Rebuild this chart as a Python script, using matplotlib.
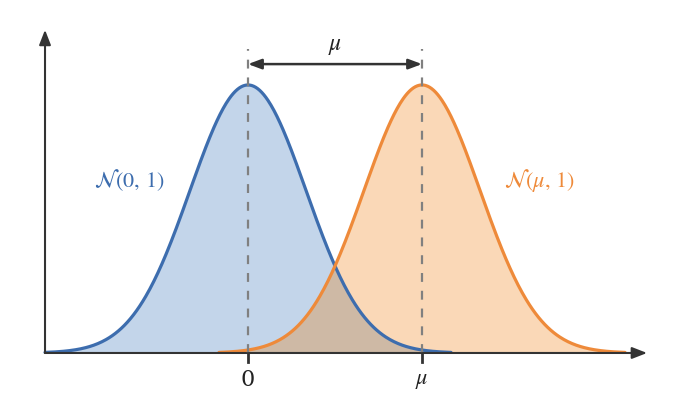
import numpy as np
import matplotlib
matplotlib.use("Agg")
import matplotlib.pyplot as plt

plt.rcParams['mathtext.fontset'] = 'stix'
plt.rcParams['font.family'] = ['DejaVu Serif']

# data
mu = 3.0
sigma = 1.0
span = 3.5
tick_positions = [0.0, mu]
tick_labels = ['0', r'$\mu$']
curve_labels = [r'$\mathcal{N}(0,\,1)$', r'$\mathcal{N}(\mu,\,1)$']

def pdf(x, m):
    return np.exp(-0.5 * ((x - m) / sigma) ** 2) / (sigma * np.sqrt(2 * np.pi))

x1 = np.linspace(-span, span, 400)
x2 = np.linspace(mu - span, mu + span, 400)
y1 = pdf(x1, 0)
y2 = pdf(x2, mu)

xo = np.linspace(mu - span, span, 400)
yo = np.minimum(pdf(xo, 0), pdf(xo, mu))

blue_line = '#3D6DAE'
orange_line = '#EE8A3A'
blue_fill = '#C3D5EA'
orange_fill = '#FAD8B7'
over_fill = '#CEB9A5'

fig = plt.figure(figsize=(6.8, 4.16), dpi=100)
ax = fig.add_axes([0, 0, 1, 1])
ax.set_xlim(-4.276, 7.448)
ax.set_ylim(-0.0938, 0.5254)
ax.axis('off')

ax.fill_between(x1, 0, y1, color=blue_fill, lw=0, zorder=1)
ax.fill_between(x2, 0, y2, color=orange_fill, lw=0, zorder=1)
ax.fill_between(xo, 0, yo, color=over_fill, lw=0, zorder=2)
ax.plot(x1, y1, color=blue_line, lw=2.3, zorder=4, solid_capstyle='round')
ax.plot(x2, y2, color=orange_line, lw=2.3, zorder=4, solid_capstyle='round')

axis_col = '#333333'
# axes arrows
ax.annotate('', xy=(6.88, 0), xytext=(-3.5, 0),
            arrowprops=dict(arrowstyle='-|>,head_length=0.9,head_width=0.35', color=axis_col, lw=1.5,
                            shrinkA=0, shrinkB=0), zorder=5)
ax.annotate('', xy=(-3.5, 0.481), xytext=(-3.5, 0),
            arrowprops=dict(arrowstyle='-|>,head_length=0.9,head_width=0.35', color=axis_col, lw=1.5,
                            shrinkA=0, shrinkB=0), zorder=5)

# dashed verticals
for t in tick_positions:
    ax.plot([t, t], [0, 0.452], color='#808080', lw=1.6, ls=(0, (4, 4)), zorder=6)
    ax.plot([t, t], [0, -0.0134], color=axis_col, lw=2.0, zorder=6)

# tick labels
for t, lab in zip(tick_positions, tick_labels):
    ax.text(t, -0.04, lab, ha='center', va='center', fontsize=16, color='#222222')

# double arrow
ax.annotate('', xy=(mu, 0.430), xytext=(0, 0.430),
            arrowprops=dict(arrowstyle='<|-|>,head_length=0.8,head_width=0.3', color=axis_col, lw=1.8,
                            shrinkA=0, shrinkB=0), zorder=7)
ax.text(mu / 2, 0.441, r'$\mu$', ha='center', va='bottom', fontsize=17, color='#222222')

# curve labels
ax.text(-2.05, 0.257, curve_labels[0], ha='center', va='center', fontsize=16, color=blue_line)
ax.text(5.02, 0.257, curve_labels[1], ha='center', va='center', fontsize=16, color=orange_line)

fig.savefig('out.png', dpi=100)
